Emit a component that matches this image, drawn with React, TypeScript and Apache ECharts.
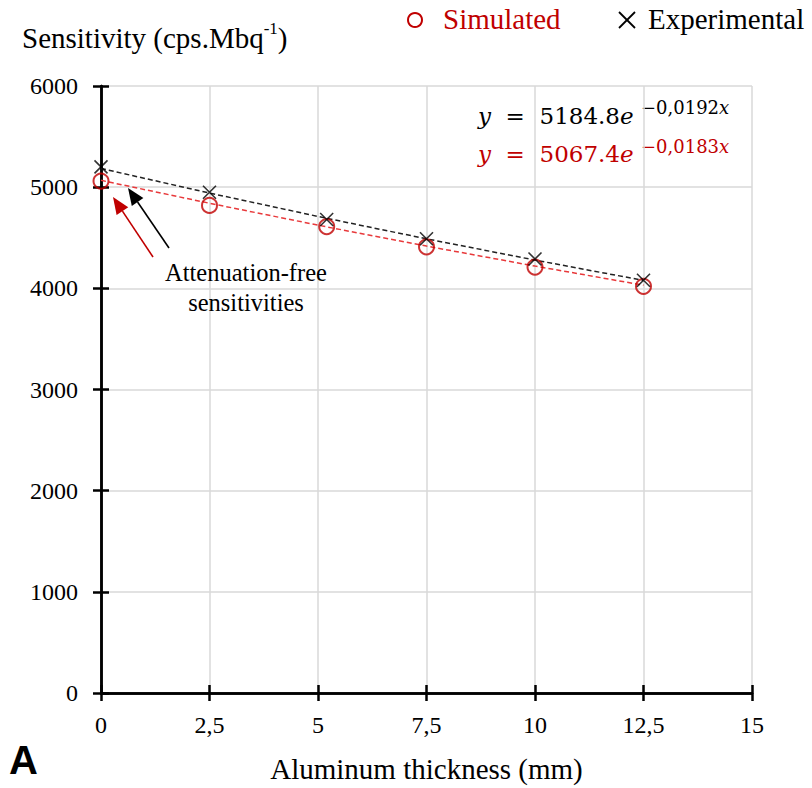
import React, { useEffect, useRef } from "react";
import * as echarts from "echarts";

// Aluminum thickness (mm) of each measurement
const thickness = [0, 2.5, 5.2, 7.5, 10, 12.5];
// Sensitivity (cps/MBq)
const simulated = [5060, 4820, 4610, 4410, 4210, 4020];
const experimental = [5200, 4950, 4680, 4490, 4290, 4080];
// Exponential trend fits y = a * e^(b x)
const simFit = { a: 5067.4, b: -0.0183 };
const expFit = { a: 5184.8, b: -0.0192 };
const xTickLabels = ["0", "2,5", "5", "7,5", "10", "12,5", "15"];

const SERIF = "Liberation Serif, Times New Roman, serif";
const MATH = "DejaVu Serif, serif";
const SANS = "Liberation Sans, Arial, sans-serif";
const RED = "#c00000";
const CROSS = "path://M0,0L10,10M10,0L0,10";

function fitLine(fit: { a: number; b: number }) {
  return thickness.map((x) => [x, fit.a * Math.exp(fit.b * x)]);
}

function arrow(tail: number[], tip: number[], color: string) {
  const dx = tip[0] - tail[0];
  const dy = tip[1] - tail[1];
  const len = Math.hypot(dx, dy);
  const ux = dx / len;
  const uy = dy / len;
  const headLen = 17;
  const headW = 7;
  const bx = tip[0] - ux * headLen;
  const by = tip[1] - uy * headLen;
  return [
    {
      type: "line",
      shape: { x1: tail[0], y1: tail[1], x2: bx, y2: by },
      style: { stroke: color, lineWidth: 1.6 },
    },
    {
      type: "polygon",
      shape: {
        points: [
          [tip[0], tip[1]],
          [bx - uy * headW, by + ux * headW],
          [bx + uy * headW, by - ux * headW],
        ],
      },
      style: { fill: color },
    },
  ];
}

// Trend equation: main part plus a raised exponent
function equation(color: string, coef: string, expo: string, midY: number) {
  const main = { fontFamily: MATH, fontSize: 23, lineHeight: 26, fill: color };
  const sup = { fontFamily: MATH, fontSize: 18, lineHeight: 20, fill: color };
  return [
    {
      type: "text",
      x: 478,
      y: midY,
      style: {
        text: `{i|y}{n|  =  ${coef}}{i|e}`,
        verticalAlign: "middle",
        rich: { i: { ...main, fontStyle: "italic" }, n: main },
      },
    },
    {
      type: "text",
      x: 641,
      y: midY - 8,
      style: {
        text: `{n|${expo}}{i|x}`,
        verticalAlign: "middle",
        rich: { i: { ...sup, fontStyle: "italic" }, n: sup },
      },
    },
  ];
}

export default function App() {
  const ref = useRef<HTMLDivElement>(null);

  useEffect(() => {
    document.body.style.margin = "0";
    const chart = echarts.init(ref.current!, null, { renderer: "svg" });

    const axisCommon = {
      type: "value",
      axisLine: { show: true, lineStyle: { color: "#000", width: 2.5 } },
    };
    const tickStyle = { color: "#000", width: 2.5 };

    chart.setOption({
      animation: false,
      backgroundColor: "#fff",
      grid: { left: 101, right: 60, top: 86, bottom: 95 },
      xAxis: [
        {
          ...axisCommon,
          min: 0,
          max: 15,
          interval: 2.5,
          name: "Aluminum thickness (mm)",
          nameLocation: "middle",
          nameGap: 61,
          nameTextStyle: { fontFamily: SERIF, fontSize: 29, color: "#000" },
          axisTick: { show: true, length: 8, lineStyle: tickStyle },
          axisLabel: {
            fontFamily: SERIF,
            fontSize: 24,
            color: "#000",
            margin: 20,
            formatter: (v: number) => xTickLabels[Math.round(v / 2.5)],
          },
          splitLine: { show: true, lineStyle: { color: "#d9d9d9", width: 1.5 } },
        },
        {
          ...axisCommon,
          position: "bottom",
          min: 0,
          max: 15,
          interval: 2.5,
          axisTick: { show: true, inside: true, length: 8, lineStyle: tickStyle },
          axisLabel: { show: false },
          splitLine: { show: false },
        },
      ],
      yAxis: [
        {
          ...axisCommon,
          min: 0,
          max: 6000,
          interval: 1000,
          axisTick: { show: true, length: 8, lineStyle: tickStyle },
          axisLabel: {
            fontFamily: SERIF,
            fontSize: 24,
            color: "#000",
            margin: 23,
            formatter: (v: number) => String(v),
          },
          splitLine: { show: true, lineStyle: { color: "#d9d9d9", width: 1.5 } },
        },
        {
          ...axisCommon,
          position: "left",
          min: 0,
          max: 6000,
          interval: 1000,
          axisTick: { show: true, inside: true, length: 8, lineStyle: tickStyle },
          axisLabel: { show: false },
          splitLine: { show: false },
        },
      ],
      series: [
        {
          name: "Simulated fit",
          type: "line",
          data: fitLine(simFit),
          showSymbol: false,
          lineStyle: { color: "#e8393b", width: 1.5, type: [5, 3] },
          z: 3,
        },
        {
          name: "Experimental fit",
          type: "line",
          data: fitLine(expFit),
          showSymbol: false,
          lineStyle: { color: "#222", width: 1.5, type: [5, 3] },
          z: 3,
        },
        {
          name: "Simulated",
          type: "scatter",
          data: thickness.map((x, i) => [x, simulated[i]]),
          symbol: "circle",
          symbolSize: 15,
          itemStyle: { color: "transparent", borderColor: RED, borderWidth: 2 },
          z: 4,
        },
        {
          name: "Experimental",
          type: "scatter",
          data: thickness.map((x, i) => [x, experimental[i]]),
          symbol: CROSS,
          symbolSize: 13,
          itemStyle: { color: "transparent", borderColor: "#000", borderWidth: 1.6 },
          z: 5,
        },
      ],
      graphic: [
        // legend
        {
          type: "circle",
          shape: { cx: 415, cy: 20, r: 7 },
          style: { fill: "none", stroke: RED, lineWidth: 2 },
        },
        {
          type: "text",
          x: 443,
          y: 19,
          style: { text: "Simulated", fontFamily: SERIF, fontSize: 29, fill: RED, verticalAlign: "middle" },
        },
        {
          type: "line",
          shape: { x1: 619, y1: 12, x2: 635, y2: 28 },
          style: { stroke: "#000", lineWidth: 1.8 },
        },
        {
          type: "line",
          shape: { x1: 635, y1: 12, x2: 619, y2: 28 },
          style: { stroke: "#000", lineWidth: 1.8 },
        },
        {
          type: "text",
          x: 648,
          y: 19,
          style: { text: "Experimental", fontFamily: SERIF, fontSize: 29, fill: "#000", verticalAlign: "middle" },
        },
        // y-axis title
        {
          type: "text",
          left: 22,
          top: 20,
          style: {
            text: "{n|Sensitivity (cps.Mbq}{s|-1}{n|)}",
            rich: {
              n: { fontFamily: SERIF, fontSize: 29, lineHeight: 32, verticalAlign: "bottom", fill: "#000" },
              s: { fontFamily: SERIF, fontSize: 17, lineHeight: 18, verticalAlign: "top", fill: "#000" },
            },
          },
        },
        ...equation("#000", "5184.8", "−0,0192", 115.5),
        ...equation(RED, "5067.4", "−0,0183", 154),
        {
          type: "text",
          x: 246,
          y: 287,
          style: {
            text: "Attenuation-free\nsensitivities",
            fontFamily: SERIF,
            fontSize: 24.5,
            lineHeight: 30,
            align: "center",
            verticalAlign: "middle",
            fill: "#000",
          },
          z: 10,
        },
        ...arrow([153, 257], [113, 197], RED),
        ...arrow([169, 248], [128, 188], "#000"),
        {
          type: "text",
          left: 9,
          top: 740,
          style: { text: "A", fontFamily: SANS, fontWeight: "bold", fontSize: 40, fill: "#000" },
        },
      ],
    });

    return () => chart.dispose();
  }, []);

  return <div ref={ref} style={{ width: 812, height: 788 }} />;
}
